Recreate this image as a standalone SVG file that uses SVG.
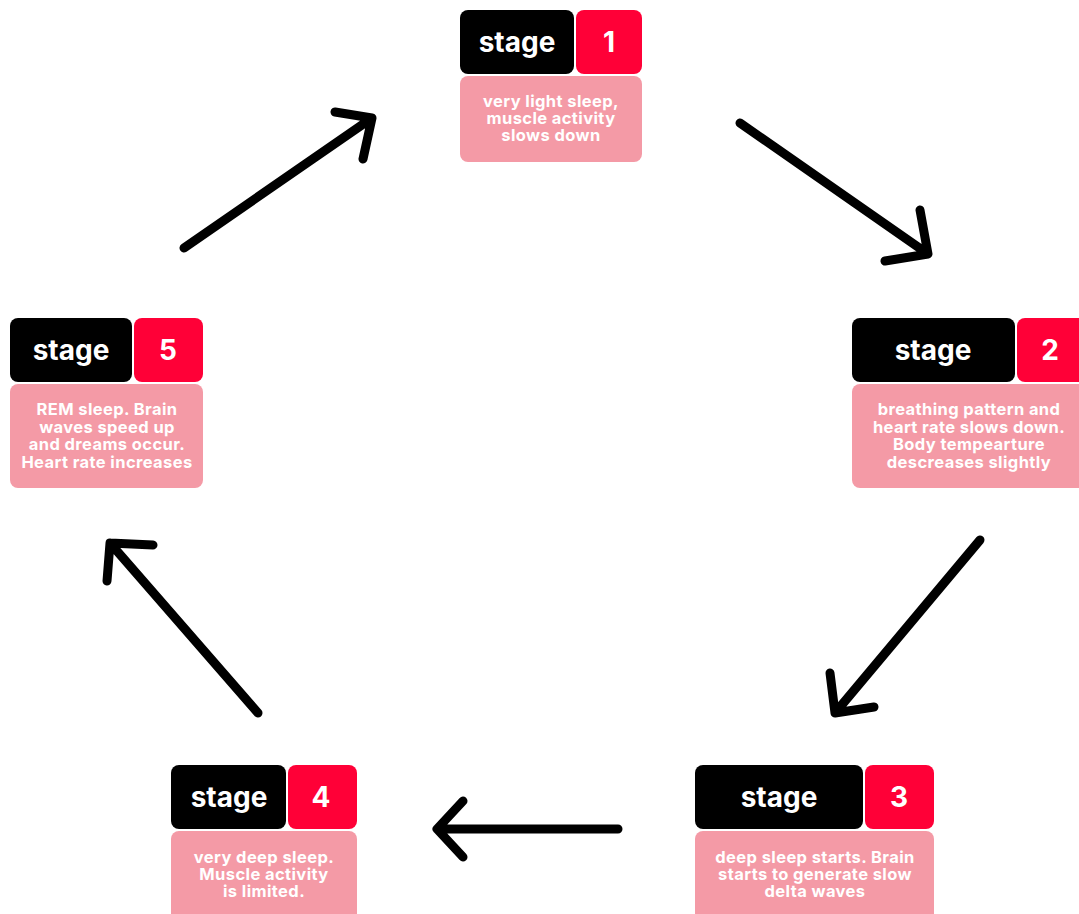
<svg xmlns="http://www.w3.org/2000/svg" width="1079" height="914" viewBox="0 0 1079 914">
<style>
.blk{fill:#000000}
.red{fill:#FF0037}
.pink{fill:#F49AA6}
.title{font-family:Inter,"Liberation Sans",sans-serif;font-weight:700;font-size:28px;fill:#fff;text-anchor:middle}
.desc{font-family:Inter,"Liberation Sans",sans-serif;font-weight:700;font-size:16.5px;letter-spacing:0.4px;fill:#fff;text-anchor:middle}
.arr{fill:none;stroke:#000;stroke-width:9;stroke-linecap:round;stroke-linejoin:round}
</style>
<rect width="1079" height="914" fill="#fff"/>
<g id="connectors">
<path class="arr" d="M184,248 L372,118 M335,112 L372,118 L363,159"/>
<path class="arr" d="M740,123 L928,254 M920,210 L928,254 L885,261"/>
<path class="arr" d="M980,540 L835,713 M830,673 L835,713 L874,707"/>
<path class="arr" d="M618,829 L437,829 M463,801 L437,829 L463,857"/>
<path class="arr" d="M258,713 L110,543 M107,581 L110,543 L153,545"/>
</g>
<g id="stage1">
<rect class="blk" x="460" y="10" width="114" height="64" rx="8"/>
<rect class="red" x="576" y="10" width="66" height="64" rx="8"/>
<rect class="pink" x="460" y="76" width="182" height="86" rx="8"/>
<text class="title" x="517" y="52">stage</text>
<text class="title" x="609" y="52">1</text>
<text class="desc"><tspan x="551" y="107">very light sleep,</tspan><tspan x="551" y="124">muscle activity</tspan><tspan x="551" y="141">slows down</tspan></text>
</g>
<g id="stage2">
<rect class="blk" x="852" y="318" width="163" height="64" rx="8"/>
<rect class="red" x="1017" y="318" width="70" height="64" rx="8"/>
<rect class="pink" x="852" y="384" width="235" height="104" rx="8"/>
<text class="title" x="933" y="360">stage</text>
<text class="title" x="1050" y="360">2</text>
<text class="desc"><tspan x="969" y="415">breathing pattern and</tspan><tspan x="969" y="432.5">heart rate slows down.</tspan><tspan x="969" y="450">Body tempearture</tspan><tspan x="969" y="467.5">descreases slightly</tspan></text>
</g>
<g id="stage3">
<rect class="blk" x="695" y="765" width="168" height="64" rx="8"/>
<rect class="red" x="865" y="765" width="69" height="64" rx="8"/>
<rect class="pink" x="695" y="831" width="239" height="95" rx="8"/>
<text class="title" x="779" y="807">stage</text>
<text class="title" x="899" y="807">3</text>
<text class="desc"><tspan x="815" y="863">deep sleep starts. Brain</tspan><tspan x="815" y="880">starts to generate slow</tspan><tspan x="815" y="897">delta waves</tspan></text>
</g>
<g id="stage4">
<rect class="blk" x="171" y="765" width="115" height="64" rx="8"/>
<rect class="red" x="288" y="765" width="69" height="64" rx="8"/>
<rect class="pink" x="171" y="831" width="186" height="95" rx="8"/>
<text class="title" x="229" y="807">stage</text>
<text class="title" x="321" y="807">4</text>
<text class="desc"><tspan x="264" y="863">very deep sleep.</tspan><tspan x="264" y="880">Muscle activity</tspan><tspan x="264" y="897">is limited.</tspan></text>
</g>
<g id="stage5">
<rect class="blk" x="10" y="318" width="122" height="64" rx="8"/>
<rect class="red" x="134" y="318" width="69" height="64" rx="8"/>
<rect class="pink" x="10" y="384" width="193" height="104" rx="8"/>
<text class="title" x="71" y="360">stage</text>
<text class="title" x="168" y="360">5</text>
<text class="desc"><tspan x="107" y="415">REM sleep. Brain</tspan><tspan x="107" y="432.5">waves speed up</tspan><tspan x="107" y="450">and dreams occur.</tspan><tspan x="107" y="467.5">Heart rate increases</tspan></text>
</g>
</svg>
